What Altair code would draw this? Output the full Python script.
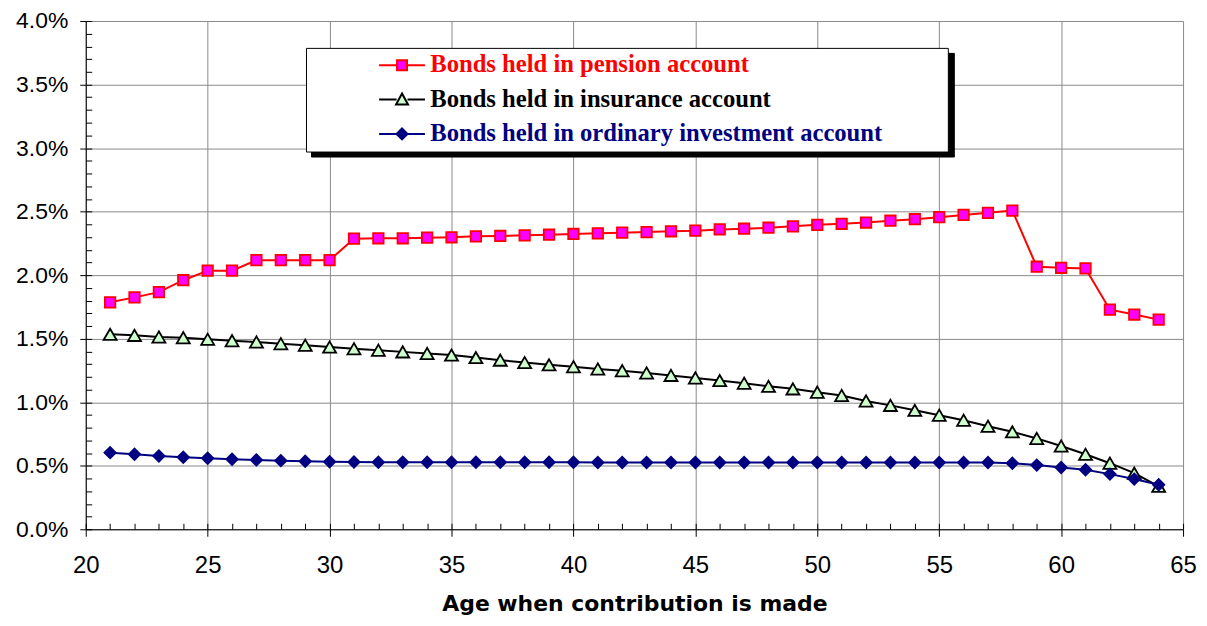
import altair as alt
import pandas as pd

# ---- data (percent values) ----
ages = list(range(21, 65))
pension = [1.786, 1.825, 1.866, 1.96, 2.035, 2.035, 2.118, 2.118, 2.118, 2.118,
           2.287, 2.29, 2.29, 2.295, 2.298, 2.305, 2.308, 2.313, 2.318, 2.324,
           2.329, 2.334, 2.339, 2.345, 2.35, 2.36, 2.365, 2.373, 2.384, 2.396,
           2.404, 2.414, 2.428, 2.44, 2.456, 2.474, 2.49, 2.508,
           2.066, 2.058, 2.053, 1.728, 1.69, 1.65]
insurance = [1.534, 1.526, 1.513, 1.508, 1.495, 1.484, 1.474, 1.46, 1.448, 1.434,
             1.421, 1.409, 1.396, 1.383, 1.371, 1.351, 1.331, 1.312, 1.294, 1.279,
             1.261, 1.248, 1.23, 1.211, 1.191, 1.17, 1.149, 1.125, 1.105, 1.079,
             1.053, 1.01, 0.975, 0.936, 0.897, 0.858, 0.811, 0.767,
             0.715, 0.655, 0.59, 0.52, 0.442, 0.338]
ordinary = [0.603, 0.59, 0.577, 0.567, 0.559, 0.551, 0.546, 0.54, 0.535, 0.531,
            0.529, 0.528, 0.528, 0.527, 0.527, 0.527, 0.527, 0.527, 0.527, 0.527,
            0.526, 0.526, 0.526, 0.526, 0.526, 0.526, 0.526, 0.526, 0.526, 0.526,
            0.525, 0.525, 0.525, 0.525, 0.525, 0.525, 0.525, 0.52,
            0.505, 0.486, 0.468, 0.434, 0.395, 0.35]

series_names = ["Bonds held in pension account",
                "Bonds held in insurance account",
                "Bonds held in ordinary investment account"]
line_colors = ["#FF0000", "#000000", "#000080"]
fill_colors = ["#FF00FF", "#CCFFCC", "#000080"]
marker_shapes = ["square", "triangle-up", "diamond"]
marker_sizes = [110, 170, 130]
legend_symbols = [
    "M-2.3,0H-0.5M0.5,0H2.3M-0.5,-0.5H0.5V0.5H-0.5Z",
    "M-2.3,0H-0.55M0.55,0H2.3M0,-0.6L0.6,0.5H-0.6Z",
    "M-2.3,0H-0.55M0.55,0H2.3M0,-0.55L0.55,0L0,0.55L-0.55,0Z",
]

x_major = [20, 25, 30, 35, 40, 45, 50, 55, 60, 65]
y_major = [0.0, 0.005, 0.01, 0.015, 0.02, 0.025, 0.03, 0.035, 0.04]
x_minor = list(range(20, 66))
y_minor = [i / 1000 for i in range(0, 41)]

rows = []
for name, vals in zip(series_names, [pension, insurance, ordinary]):
    for a, v in zip(ages, vals):
        rows.append({"age": a, "value": v / 100.0, "series": name})
df = pd.DataFrame(rows)

xs = alt.Scale(domain=[20, 65], nice=False, zero=False)
ys = alt.Scale(domain=[0, 0.04], nice=False)

base = alt.Chart(df)

# main axes with grid
axis_layer = base.mark_point(opacity=0).encode(
    x=alt.X("age:Q", scale=xs, axis=alt.Axis(
        orient="bottom", values=x_major, grid=True, gridColor="#8a8a8a",
        tickSize=7, tickColor="black", domainColor="black", labelPadding=17,
        labelFlush=False, labelFont="Liberation Sans", labelFontSize=24,
        labelColor="black",
        title="Age when contribution is made", titleFont="DejaVu Sans",
        titleFontSize=22, titleFontWeight="bold", titleColor="black",
        titlePadding=17)),
    y=alt.Y("value:Q", scale=ys, axis=alt.Axis(
        orient="left", values=y_major, format=".1%", grid=True,
        gridColor="#8a8a8a", tickSize=6, tickColor="black",
        domainColor="black", labelPadding=12, labelFlush=False,
        labelFont="Liberation Sans", labelFontSize=23, labelColor="black",
        title=None)),
)

# minor (inside) ticks
minor_layer = base.mark_point(opacity=0).encode(
    x=alt.X("age:Q", scale=xs, axis=alt.Axis(
        orient="bottom", values=x_minor, offset=-6, tickSize=6,
        tickColor="black", labels=False, domain=False, grid=False,
        title=None)),
    y=alt.Y("value:Q", scale=ys, axis=alt.Axis(
        orient="left", values=y_minor, offset=-6, tickSize=6,
        tickColor="black", labels=False, domain=False, grid=False,
        title=None)),
)

layers = [axis_layer, minor_layer]
for name, lc, fc, shp, sz in zip(series_names, line_colors, fill_colors,
                                 marker_shapes, marker_sizes):
    sub = base.transform_filter(alt.datum.series == name)
    enc = dict(
        x=alt.X("age:Q", scale=xs, axis=None),
        y=alt.Y("value:Q", scale=ys, axis=None),
    )
    layers.append(sub.mark_line(color=lc, strokeWidth=2).encode(**enc))
    layers.append(sub.mark_point(shape=shp, filled=True, fill=fc, stroke=lc,
                                 strokeWidth=1.8, size=sz, opacity=1)
                  .encode(**enc))

label_color_expr = (
    "datum.value == '" + series_names[0] + "' ? '" + line_colors[0] + "' : "
    "datum.value == '" + series_names[1] + "' ? '" + line_colors[1] + "' : '"
    + line_colors[2] + "'"
)

LEG_X, LEG_Y = 221, 27
LEG_W, LEG_H = 643, 103

# main legend (an invisible title on the right widens the box)
leg = alt.Legend(
    title="000000000", titleOrient="right", titleOpacity=0,
    titleFont="Liberation Sans", titleFontSize=11, titlePadding=5,
    orient="none", legendX=LEG_X, legendY=LEG_Y, padding=5,
    fillColor="white", strokeColor="black",
    symbolSize=400, symbolOffset=79, labelOffset=16, rowPadding=8.5,
    symbolStrokeWidth=2, symbolOpacity=1, zindex=2,
    labelFont="Liberation Serif", labelFontWeight="bold", labelFontSize=24.7,
    labelLimit=2000, labelColor={"expr": label_color_expr},
)

legend_layer = base.transform_filter("false").mark_point(
    filled=True, opacity=1).encode(
    x=alt.X("age:Q", scale=xs, axis=None),
    y=alt.Y("value:Q", scale=ys, axis=None),
    shape=alt.Shape("series:N", scale=alt.Scale(domain=series_names,
                                                range=legend_symbols), legend=leg),
    fill=alt.Fill("series:N", scale=alt.Scale(domain=series_names,
                                              range=fill_colors), legend=leg),
    stroke=alt.Stroke("series:N", scale=alt.Scale(domain=series_names,
                                                  range=line_colors), legend=leg),
)

# drop shadow of the legend box: a one-entry legend with an invisible symbol
shadow_leg = alt.Legend(
    title=None, orient="none", legendX=LEG_X + 5, legendY=LEG_Y + 5,
    padding=0, fillColor="black", strokeColor="black",
    symbolSize=LEG_H * LEG_H, symbolOffset=LEG_W - LEG_H, symbolOpacity=0,
    labelOffset=0, labelExpr="''", zindex=1,
)
shadow_layer = base.transform_filter("false").mark_point(
    filled=True, opacity=1).encode(
    x=alt.X("age:Q", scale=xs, axis=None),
    y=alt.Y("value:Q", scale=ys, axis=None),
    color=alt.Color("shadow:N", scale=alt.Scale(domain=["shadow"],
                                                range=["black"]),
                    legend=shadow_leg),
)
layers.append(shadow_layer)
layers.append(legend_layer)

chart = alt.layer(*layers).resolve_axis(
    x="independent", y="independent"
).properties(
    width=1101, height=510,
    padding={"left": 78, "top": 12, "right": 16, "bottom": 88},
    autosize="none",
).configure_view(stroke=None)

chart.save("out.html", embed_options={"renderer": "svg", "actions": False})
